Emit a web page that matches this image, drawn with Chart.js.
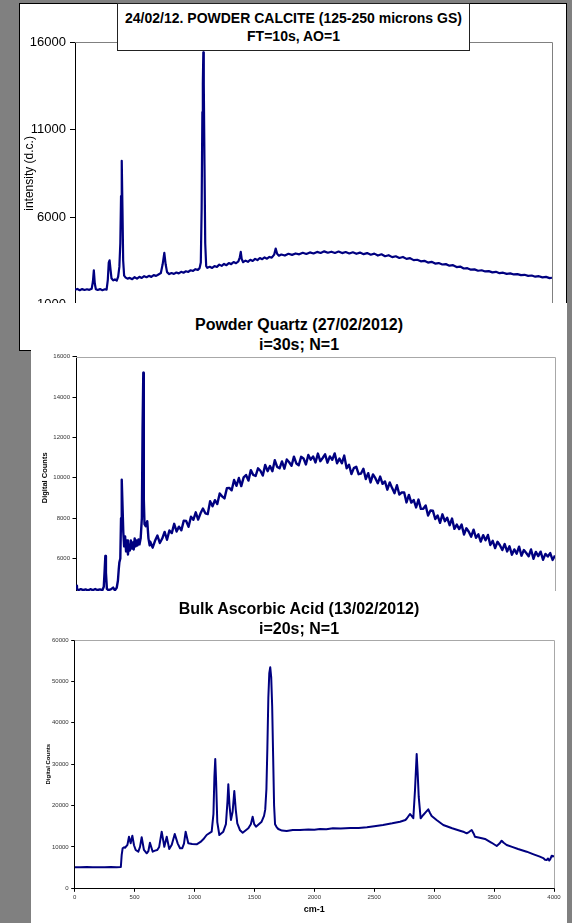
<!DOCTYPE html>
<html>
<head>
<meta charset="utf-8">
<script src="https://cdn.jsdelivr.net/npm/chart.js@4.4.0/dist/chart.umd.min.js"></script>
<style>
  html, body { margin: 0; padding: 0; }
  body { width: 572px; height: 923px; background: #808080; position: relative; overflow: hidden;
         font-family: Arial, "Liberation Sans", sans-serif; }
  .abs { position: absolute; }
  #panel1 { left: 19px; top: 3px; width: 546px; height: 346px; background: #fff; border: 1px solid #000; z-index: 0; }
  #chart1 { left: 20px; top: 4px; z-index: 1; }
  #title1 { left: 117px; top: 3px; width: 353px; height: 48px; box-sizing: border-box; border: 1px solid #222;
            background: #fff; z-index: 2; font-size: 14px; line-height: 18px; padding-top: 5px; }
  #panel2 { left: 31px; top: 303px; width: 536px; height: 620px; background: #fff; z-index: 3; }
  #title2 { left: 31px; top: 315px; width: 536px; z-index: 4; font-size: 16px; line-height: 19.5px; }
  #chart2 { left: 31px; top: 320px; z-index: 4; }
  #panel3 { left: 31px; top: 591px; width: 536px; height: 332px; background: #fff; z-index: 5; }
  #chart3 { left: 31px; top: 591px; z-index: 6; }
  #title3 { left: 31px; top: 599px; width: 536px; z-index: 6; font-size: 16px; line-height: 20px; }
  .title { text-align: center; font-weight: bold; color: #000; white-space: nowrap; }
</style>
</head>
<body>
<div id="panel1" class="abs"></div>
<canvas id="chart1" class="abs" width="546" height="345"></canvas>
<div id="title1" class="abs title">24/02/12. POWDER CALCITE (125-250 microns GS)<br>FT=10s, AO=1</div>
<div id="panel2" class="abs"></div>
<div id="title2" class="abs title">Powder Quartz (27/02/2012)<br>i=30s; N=1</div>
<canvas id="chart2" class="abs" width="536" height="285"></canvas>
<div id="panel3" class="abs"></div>
<canvas id="chart3" class="abs" width="536" height="332"></canvas>
<div id="title3" class="abs title">Bulk Ascorbic Acid (13/02/2012)<br>i=20s; N=1</div>

<script>
// Raman shift (cm-1) and detector counts for each sample
const calciteShift = [
  0, 20, 40, 60, 80, 100, 120, 140, 150, 158, 166, 175, 190, 210, 230, 250, 265, 275, 283, 290,
  298, 306, 320, 335, 350, 362, 372, 380, 386, 392, 398, 404, 412, 425, 440, 460, 480, 500, 520, 540,
  560, 580, 600, 620, 640, 660, 680, 700, 720, 735, 749, 760, 772, 790, 810, 830, 850, 870, 890, 910,
  930, 950, 970, 990, 1010, 1030, 1045, 1055, 1062, 1068, 1072, 1076, 1080, 1086, 1092, 1100, 1110, 1130, 1150, 1170,
  1190, 1210, 1230, 1250, 1270, 1290, 1310, 1330, 1350, 1370, 1382, 1390, 1398, 1410, 1430, 1450, 1470, 1490, 1510, 1530,
  1550, 1570, 1590, 1610, 1630, 1650, 1670, 1683, 1695, 1710, 1730, 1760, 1790, 1820, 1850, 1880, 1910, 1940, 1970, 2000,
  2030, 2060, 2090, 2120, 2150, 2180, 2210, 2240, 2270, 2300, 2330, 2360, 2390, 2420, 2450, 2480, 2510, 2540, 2570, 2600,
  2630, 2660, 2690, 2720, 2750, 2780, 2810, 2840, 2870, 2900, 2930, 2960, 2990, 3020, 3050, 3080, 3110, 3140, 3170, 3200,
  3230, 3260, 3290, 3320, 3350, 3380, 3410, 3440, 3470, 3500, 3530, 3560, 3590, 3620, 3650, 3680, 3710, 3740, 3770, 3800,
  3830, 3860, 3890, 3920, 3950, 3980, 4000
];
const calciteCounts = [
  1850, 1890, 1820, 1880, 1830, 1870, 1840, 1900, 2300, 2960, 2200, 1870, 1830, 1880, 1820, 1870, 1850, 2400, 3400, 3530,
  3000, 2500, 2380, 2440, 2370, 2600, 3150, 4500, 7200, 9220, 6500, 3500, 2650, 2540, 2480, 2520, 2450, 2560, 2480, 2580,
  2520, 2620, 2560, 2640, 2580, 2680, 2640, 2720, 2800, 3300, 3950, 3300, 2850, 2740, 2800, 2750, 2830, 2780, 2870, 2820,
  2900, 2860, 2960, 2920, 3020, 2980, 3080, 3400, 6500, 12000, 13650, 15427, 13600, 9000, 4500, 3200, 3100, 3160, 3090, 3200,
  3150, 3280, 3210, 3320, 3250, 3370, 3310, 3430, 3360, 3470, 3700, 4010, 3600, 3420, 3510, 3440, 3560, 3490, 3610, 3540,
  3660, 3590, 3690, 3620, 3720, 3680, 3850, 4200, 3900, 3790, 3860, 3800, 3900, 3840, 3920, 3870, 3960, 3890, 3980, 3920,
  4010, 3950, 4040, 3960, 4020, 3950, 4030, 3940, 4000, 3920, 3990, 3900, 3970, 3880, 3940, 3850, 3910, 3800, 3870, 3760,
  3820, 3710, 3760, 3660, 3720, 3610, 3650, 3540, 3560, 3470, 3500, 3400, 3440, 3340, 3370, 3290, 3310, 3220, 3250, 3140,
  3170, 3060, 3080, 2990, 3010, 2930, 2960, 2890, 2910, 2840, 2870, 2790, 2820, 2750, 2780, 2720, 2740, 2680, 2700, 2640,
  2660, 2590, 2620, 2550, 2580, 2510, 2530
];

const quartzShift = [
  0, 8, 20, 40, 60, 80, 100, 120, 140, 160, 180, 200, 220, 232, 240, 245, 250, 258, 270, 290,
  310, 325, 340, 350, 357, 362, 370, 376, 382, 388, 395, 402, 410, 418, 426, 434, 442, 450, 458, 466,
  474, 482, 490, 498, 506, 514, 522, 530, 540, 550, 556, 562, 566, 572, 582, 595, 605, 615,
  620, 640, 660, 680, 700, 720, 740, 760, 780, 800, 820, 840, 860, 880, 900, 920, 940, 960, 980, 1000,
  1020, 1040, 1060, 1080, 1100, 1120, 1140, 1160, 1180, 1200, 1220, 1240, 1260, 1280, 1300, 1320, 1340, 1360, 1380, 1400,
  1420, 1440, 1460, 1480, 1500, 1520, 1540, 1560, 1580, 1600, 1620, 1640, 1660, 1680, 1700, 1720, 1740, 1760, 1780, 1800,
  1820, 1840, 1860, 1880, 1900, 1920, 1940, 1960, 1980, 2000, 2020, 2040, 2060, 2080, 2100, 2120, 2140, 2160, 2180, 2200,
  2220, 2240, 2260, 2280, 2300, 2320, 2340, 2360, 2380, 2400, 2420, 2440, 2460, 2480, 2500, 2520, 2540, 2560, 2580, 2600,
  2620, 2640, 2660, 2680, 2700, 2720, 2740, 2760, 2780, 2800, 2820, 2840, 2860, 2880, 2900, 2920, 2940, 2960, 2980, 3000,
  3020, 3040, 3060, 3080, 3100, 3120, 3140, 3160, 3180, 3200, 3220, 3240, 3260, 3280, 3300, 3320, 3340, 3360, 3380, 3400,
  3420, 3440, 3460, 3480, 3500, 3520, 3540, 3560, 3580, 3600, 3620, 3640, 3660, 3680, 3700, 3720, 3740, 3760, 3780, 3800,
  3820, 3840, 3860, 3880, 3900, 3920, 3940, 3960, 3980, 4000
];
const quartzCounts = [
  4650, 4500, 4440, 4480, 4430, 4470, 4420, 4480, 4430, 4490, 4440, 4470, 4430, 4600, 5500, 6124, 5300, 4500, 4440, 4470,
  4560, 4430, 4550, 4900, 5470, 5800, 6000, 8000, 9900, 8700, 7300, 6600, 7100, 6350, 6900, 6200, 6700, 6400, 6900, 6500,
  6800, 6450, 7000, 6600, 6900, 6650, 6950, 6700, 7000, 8000, 12500, 15210, 9000, 7700, 7600, 7850, 7000, 6650,
  6840, 6540, 6880, 7140, 6770, 6990, 7320, 6930, 7390, 7260, 7720, 7340, 7580, 7400, 7880, 7860, 7570, 8070, 7920, 8290,
  7930, 8240, 8480, 8240, 8200, 8840, 8590, 8890, 8700, 9220, 9080, 8980, 9480, 9500, 9380, 9890, 9600, 9990, 9590, 10020,
  10140, 9860, 10380, 10140, 10090, 10470, 10350, 10110, 10640, 10330, 10580, 10330, 10870, 10540, 10470, 10810, 10450, 10910, 10770, 10600,
  11050, 10710, 10620, 11040, 10960, 10660, 11130, 10900, 11060, 10760, 11200, 10825, 10980, 11165, 10750, 11060, 10890, 11210, 10720, 10950,
  10720, 11100, 10470, 10650, 10190, 10480, 10550, 10180, 10210, 10450, 9940, 10230, 9770, 10170, 9980, 9730, 10060, 9700, 9820, 9410,
  9770, 9490, 9240, 9630, 9170, 9270, 9280, 8780, 9150, 8770, 8900, 8530, 8920, 8460, 8470, 8630, 8130, 8380, 8370, 7960,
  8130, 7770, 8190, 7850, 8020, 7650, 7980, 7470, 7680, 7460, 7680, 7190, 7500, 7330, 7080, 7430, 7030, 7200, 6840, 7160,
  6900, 7170, 6670, 6880, 6520, 6830, 6660, 6420, 6720, 6350, 6610, 6190, 6450, 6240, 6590, 6140, 6420, 6270, 6110, 6450,
  5990, 6330, 6120, 6340, 5940, 6230, 6100, 6270, 5930, 6150
];

const ascorbicShift = [
  0, 50, 100, 150, 200, 250, 300, 350, 385, 392, 400, 412, 420, 440, 453, 467, 481, 495, 509, 531,
  545, 559, 578, 601, 615, 628, 651, 670, 689, 705, 726, 748, 768, 789, 810, 835, 860, 879, 898, 912,
  926, 948, 980, 1018, 1050, 1073, 1101, 1143, 1158, 1166, 1173, 1180, 1190, 1207, 1240, 1262, 1275, 1282, 1292, 1304,
  1318, 1332, 1344, 1357, 1380, 1402, 1449, 1470, 1485, 1498, 1513, 1560, 1580, 1590, 1600, 1608, 1616, 1624, 1632, 1640,
  1648, 1656, 1664, 1672, 1685, 1699, 1730, 1769, 1820, 1880, 1950, 2000, 2047, 2100, 2155, 2220, 2300, 2370, 2439, 2500,
  2573, 2650, 2715, 2760, 2773, 2798, 2812, 2826, 2840, 2854, 2862, 2871, 2887, 2909, 2930, 2951, 2965, 2979, 3020, 3076,
  3150, 3215, 3250, 3271, 3290, 3313, 3330, 3340, 3380, 3424, 3480, 3522, 3545, 3563, 3580, 3605, 3650, 3700, 3772, 3830,
  3882, 3910, 3925, 3939, 3950, 3960, 3970, 3981, 3990, 4000
];
const ascorbicCounts = [
  5100, 5080, 5130, 5090, 5110, 5070, 5120, 5090, 5150, 8000, 9670, 9900, 9800, 10500, 12470, 10880, 12710, 10400, 9260, 8850,
  10000, 12330, 9260, 8460, 9000, 11020, 8850, 9100, 9260, 10000, 13680, 10050, 12470, 9500, 10500, 13120, 10800, 9670, 9700, 10800,
  13680, 10880, 10700, 10630, 11200, 11840, 12880, 13680, 18000, 27000, 31250, 26000, 16000, 12880, 13680, 15500, 21000, 25140, 20000, 16510,
  18500, 23520, 19000, 15710, 14000, 13440, 14500, 15500, 17310, 15500, 14890, 16100, 17500, 19000, 24000, 34000, 46000, 52000, 53420, 51000,
  44000, 32000, 20000, 15500, 14800, 14330, 13950, 13850, 14100, 14090, 14200, 14150, 14330, 14250, 14500, 14450, 14600, 14550, 14740, 15000,
  15300, 15700, 16100, 16500, 16920, 17960, 17500, 16920, 23760, 32460, 28000, 22140, 16920, 17720, 18400, 19090, 18200, 17480, 16500, 15300,
  14500, 13920, 13600, 13290, 13600, 14090, 13200, 12470, 12200, 11920, 11000, 10220, 10800, 11500, 11000, 10470, 10000, 9500, 8850, 8200,
  7640, 7300, 6900, 6840, 7200, 6700, 7100, 7880, 7700, 7800
];

// y-axis tick values
const calciteTicks = [1000, 6000, 11000, 16000];
const quartzTicks = [4000, 6000, 8000, 10000, 12000, 14000, 16000];
const ascorbicTicks = [0, 10000, 20000, 30000, 40000, 50000, 60000];
// x-axis tick values (only the bottom chart shows them)
const shiftTicks = [0, 500, 1000, 1500, 2000, 2500, 3000, 3500, 4000];

const FONT = 'Arial, "Liberation Sans", sans-serif';
const LINE = '#000080';

// grey top and right edges of the plot area
const framePlugin = {
  id: 'frame',
  beforeDatasetsDraw(chart, args, opts) {
    const { ctx, chartArea: a } = chart;
    ctx.save();
    ctx.strokeStyle = opts.color;
    ctx.lineWidth = 1;
    ctx.beginPath();
    ctx.moveTo(a.left, Math.round(a.top) + 0.5);
    ctx.lineTo(Math.round(a.right) + 0.5, Math.round(a.top) + 0.5);
    ctx.lineTo(Math.round(a.right) + 0.5, a.bottom);
    ctx.stroke();
    ctx.restore();
  }
};

function toPoints(xs, ys) {
  return xs.map((x, i) => ({ x: x, y: ys[i] }));
}

function fixedTicks(values) {
  return scale => { scale.ticks = values.map(v => ({ value: v })); };
}

function spectrum(id, xs, ys, cfg) {
  const xScale = cfg.xAxis || { display: false };
  return new Chart(document.getElementById(id), {
    type: 'line',
    data: {
      datasets: [{
        data: toPoints(xs, ys),
        borderColor: LINE,
        borderWidth: cfg.lineWidth,
        borderJoinStyle: 'round',
        pointRadius: 0,
        tension: 0
      }]
    },
    options: {
      responsive: false,
      animation: false,
      devicePixelRatio: 1,
      layout: { padding: cfg.padding },
      plugins: {
        legend: { display: false },
        tooltip: { enabled: false },
        frame: { color: cfg.frameColor }
      },
      scales: {
        x: Object.assign({ type: 'linear', min: 0, max: 4000 }, xScale),
        y: {
          min: cfg.yTicks[0],
          max: cfg.yTicks[cfg.yTicks.length - 1],
          afterBuildTicks: fixedTicks(cfg.yTicks),
          afterFit: s => { s.width = cfg.yWidth; },
          border: { display: true, color: '#000', width: 1 },
          grid: { drawOnChartArea: false, drawTicks: true, tickLength: cfg.tickLength, color: '#000' },
          ticks: {
            padding: cfg.tickPadding,
            color: cfg.tickColor,
            font: { family: FONT, size: cfg.tickSize },
            callback: v => String(v)
          },
          title: {
            display: true,
            text: cfg.yTitle,
            color: '#000',
            font: { family: FONT, size: cfg.yTitleSize, weight: cfg.yTitleWeight },
            padding: { top: cfg.yTitlePad, bottom: 0 }
          }
        }
      }
    },
    plugins: [framePlugin]
  });
}

spectrum('chart1', calciteShift, calciteCounts, {
  padding: { left: 0, top: 38.3, right: 14, bottom: 44.5 },
  yTicks: calciteTicks, yWidth: 55, tickLength: 5, tickPadding: 4,
  tickColor: '#000', tickSize: 13,
  yTitle: 'intensity (d.c.)', yTitleSize: 12, yTitleWeight: 'normal', yTitlePad: 2,
  frameColor: '#808080', lineWidth: 2.2
});

spectrum('chart2', quartzShift, quartzCounts, {
  padding: { left: 0, top: 36.7, right: 12, bottom: 5.2 },
  yTicks: quartzTicks, yWidth: 45, tickLength: 3.5, tickPadding: 2.5,
  tickColor: '#333', tickSize: 6,
  yTitle: 'Digital Counts', yTitleSize: 7.5, yTitleWeight: 'bold', yTitlePad: 9.5,
  frameColor: '#a8a8a8', lineWidth: 2.4
});

spectrum('chart3', ascorbicShift, ascorbicCounts, {
  padding: { left: 0, top: 49, right: 13, bottom: 0 },
  yTicks: ascorbicTicks, yWidth: 43.7, tickLength: 3.5, tickPadding: 2.5,
  tickColor: '#333', tickSize: 6,
  yTitle: 'Digital Counts', yTitleSize: 6, yTitleWeight: 'bold', yTitlePad: 13.4,
  frameColor: '#a8a8a8', lineWidth: 2,
  xAxis: {
    display: true,
    afterBuildTicks: fixedTicks(shiftTicks),
    afterFit: s => { s.height = 34.7; },
    border: { display: true, color: '#000', width: 1 },
    grid: { drawOnChartArea: false, drawTicks: true, tickLength: 3.5, color: '#000' },
    ticks: { padding: 2, color: '#333', font: { family: FONT, size: 6 }, maxRotation: 0, callback: v => String(v) },
    title: {
      display: true, text: 'cm-1', color: '#000',
      font: { family: FONT, size: 9, weight: 'bold' },
      padding: { top: 0, bottom: 7.6 }
    }
  }
});
</script>
</body>
</html>
